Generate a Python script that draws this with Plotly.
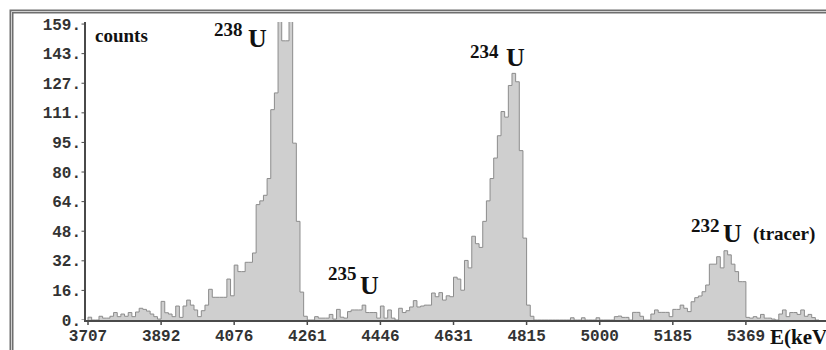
import plotly.graph_objects as go

# ---------------- data ----------------
energy_start = 3707.0          # keV, left edge of first channel
bin_width = 184.67 / 20        # keV per channel

counts = [
    1.5, 0, 0, 2, 1, 1, 2, 4, 1.8, 3.2,
    2, 4, 1.8, 4.3, 6.3, 5.7, 4.8, 3.2, 1.8, 0.5,
    10, 3.9, 3.2, 1.8, 7.5, 1.4, 7.5, 10.7, 8, 5.4,
    1.8, 5, 8, 16.5, 12.2, 12.2, 12.2, 12.2, 22, 13,
    29.5, 26, 26, 31, 31, 36, 62, 64, 67, 76,
    113, 122, 170, 150, 150, 170, 95, 53, 15, 2,
    0, 0, 1.8, 1, 1, 1, 3, 0.5, 5.7, 1.5,
    1, 4.5, 5.4, 5.4, 5.4, 8, 4, 4, 4, 1,
    7.5, 1, 5.4, 1, 0, 6.3, 4, 5, 7, 10.4,
    7, 7.5, 8, 8, 14.5, 12.5, 14.7, 10.7, 13, 12.5,
    23, 22, 16, 32, 28, 45, 41, 39, 53, 64,
    76, 87, 99, 112, 109, 126, 132.5, 128, 91, 44,
    8, 2, 0, 0, 0, 0, 0, 0, 0, 0,
    0, 0, 1.2, 0, 0, 1.2, 0, 0, 0, 1.2,
    0, 0, 0, 0, 1.8, 2.1, 1.4, 1.4, 0, 4.1,
    4.1, 2, 0, 0, 3.2, 5.4, 4.1, 4.1, 4.1, 1.8,
    5.7, 5.7, 8, 6.3, 4.5, 9.8, 12, 12.9, 15.2, 18.8,
    30, 30, 34, 28, 37.2, 35, 30, 26, 20.6, 20.6,
    1.4, 1, 1.8, 1, 3, 1, 1, 0.5, 0, 3.2,
    5.4, 1.8, 4, 4, 3, 5.4, 2, 3, 1.3, 0,
]

xtick_vals = [3707, 3891.7, 4076.3, 4261.0, 4445.7, 4630.4, 4815.0, 4999.7, 5184.4, 5369.0]
xtick_text = ["3707", "3892", "4076", "4261", "4446", "4631", "4815", "5000", "5185", "5369"]
ytick_vals = [0, 15.9, 31.8, 47.7, 63.6, 79.5, 95.4, 111.3, 127.2, 143.1, 159]
ytick_text = ["0.", "16.", "32.", "48.", "64.", "80.", "95.", "111.", "127.", "143.", "159."]

# ---------------- geometry helpers ----------------
W, H = 826, 350
ML, MR, MT, MB = 86, 0, 22, 30
PW, PH = W - ML - MR, H - MT - MB
KEV_PER_PX = 184.67 / 73.1
X0 = 3707 - 2 * KEV_PER_PX
X1 = X0 + PW * KEV_PER_PX
Y1 = 160.1


def pxp(px):
    return (px - ML) / PW


def pyp(py):
    return (H - MB - py) / PH


# step outline of the histogram
edges = [energy_start + bin_width * i for i in range(len(counts) + 1)]
step_x = [edges[0]] + edges
step_y = [0] + counts + [0]

fig = go.Figure()
fig.add_trace(go.Scatter(
    x=step_x, y=step_y, mode="lines", line_shape="hv",
    line=dict(color="#8c8c8c", width=1),
    fill="tozeroy", fillcolor="#cfcfcf",
    hoverinfo="skip", showlegend=False,
))

serif = "Liberation Serif"
ann = []


def add_text(text, px, py, size, bold=True, xanchor="center"):
    ann.append(dict(
        x=pxp(px), y=pyp(py), xref="paper", yref="paper", text=text, showarrow=False,
        xanchor=xanchor, yanchor="middle",
        font=dict(family=serif, size=size, color="#111",
                  weight="bold" if bold else "normal"),
    ))


add_text("counts", 121, 35, 19)
add_text("238", 228, 29, 19)
add_text("U", 257, 38, 26)
add_text("234", 484.5, 51, 19)
add_text("U", 515, 57.5, 26)
add_text("235", 342, 273, 19)
add_text("U", 369.5, 285, 26)
add_text("232", 705, 225.5, 19)
add_text("U", 732, 233.5, 26)
add_text("(tracer)", 751, 234, 19, xanchor="left")
add_text("E(keV", 768, 337, 21, xanchor="left")

# window-like double frame
shapes = [
    dict(type="rect", xref="paper", yref="paper",
         x0=pxp(11.5), x1=pxp(860), y0=pyp(380), y1=pyp(11.5),
         line=dict(color="#6e6e6e", width=4), layer="above"),
    dict(type="rect", xref="paper", yref="paper",
         x0=pxp(11.5), x1=pxp(860), y0=pyp(380), y1=pyp(11.5),
         line=dict(color="#d0d0d0", width=1), layer="above"),
]
# small tick marks (drawn by hand so labels can sit close to the axes)
for tv in xtick_vals:
    shapes.append(dict(type="line", xref="x", yref="paper", x0=tv, x1=tv,
                       y0=pyp(321.5), y1=pyp(325), line=dict(color="#4a4a4a", width=1.5)))
for tv in ytick_vals:
    shapes.append(dict(type="line", xref="paper", yref="y", x0=pxp(81.5), x1=pxp(85),
                       y0=tv, y1=tv, line=dict(color="#4a4a4a", width=1)))

tickfont = dict(family="Liberation Mono", size=16, color="#333", weight="bold")

fig.update_layout(
    width=W, height=H,
    margin=dict(l=ML, r=MR, t=MT, b=MB, pad=0),
    paper_bgcolor="white", plot_bgcolor="white",
    annotations=ann, shapes=shapes,
    xaxis=dict(
        range=[X0, X1], tickmode="array", tickvals=xtick_vals, ticktext=xtick_text,
        showgrid=False, zeroline=False, showline=True, linecolor="#4a4a4a", linewidth=2,
        ticks="", tickfont=tickfont, fixedrange=True,
    ),
    yaxis=dict(
        range=[0, Y1], tickmode="array", tickvals=ytick_vals, ticktext=ytick_text,
        showgrid=False, zeroline=False, showline=True, linecolor="#4a4a4a", linewidth=1.5,
        ticks="", tickfont=tickfont, fixedrange=True,
    ),
)

fig.write_html("out.html")
